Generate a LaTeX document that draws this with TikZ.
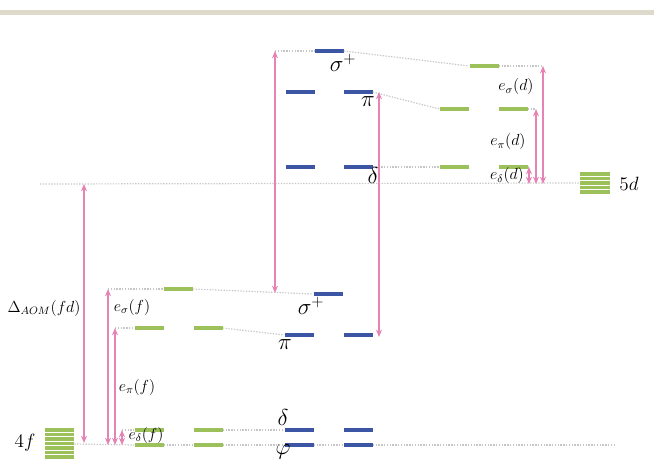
\documentclass[tikz,border=0pt]{standalone}
\usetikzlibrary{arrows.meta}
\definecolor{levblue}{HTML}{3C55A5}
\definecolor{levgreen}{HTML}{9CC15B}
\definecolor{gappink}{HTML}{E583B4}
\definecolor{topband}{HTML}{DEDACB}
\begin{document}
\begin{tikzpicture}[x=0.75pt,y=-0.75pt,
    bbar/.style={fill=levblue, minimum width=21.75pt, minimum height=3pt, inner sep=0pt},
    gbar/.style={fill=levgreen, minimum width=21.75pt, minimum height=3pt, inner sep=0pt},
    lvl/.style={gray!45, line width=0.9pt, dash pattern=on 1pt off 1.1pt},
    gap/.style={draw=gappink, line width=0.8pt, {Stealth[length=5.5pt,width=4.5pt]}-{Stealth[length=5.5pt,width=4.5pt]}},
    glab/.style={inner sep=0pt, font=\LARGE},
    elab/.style={inner sep=0pt, font=\large}]
    \useasboundingbox (0,0) rectangle (654,460);
    \fill[topband] (0,10) rectangle (654,15);
    % shells
    \node[minimum width=22.5pt, minimum height=16.5pt, inner sep=0pt] (st5d) at (595,183) {};
    \foreach \i in {0,...,4}
      \fill[levgreen] (580,{172+\i*4.5}) rectangle ++(30,3.6);
    \node[minimum width=21.75pt, minimum height=24pt, inner sep=0pt] (st4f) at (59.5,444) {};
    \foreach \i in {0,...,6}
      \fill[levgreen] (45,{428+\i*4.5}) rectangle ++(29,3.6);
    \node[inner sep=0pt, font=\Large] (l5d) at (629,184) {$5d$};
    \node[inner sep=0pt, font=\Large] (l4f) at (25,443) {$4f$};
    % upper blue levels
    \node[bbar] (usig) at (329,51) {};
    \node[bbar] (upi1) at (300,92) {};
    \node[bbar] (upi2) at (358,92) {};
    \node[bbar] (udel1) at (300,167) {};
    \node[bbar] (udel2) at (358,167) {};
    % 5d ligand field levels
    \node[gbar] (dsig) at (484,66) {};
    \node[gbar] (dpi1) at (454,109) {};
    \node[gbar] (dpi2) at (513,109) {};
    \node[gbar] (ddel1) at (454,167) {};
    \node[gbar] (ddel2) at (513,167) {};
    % lower blue levels
    \node[bbar] (lsig) at (328,294) {};
    \node[bbar] (lpi1) at (299,335) {};
    \node[bbar] (lpi2) at (358,335) {};
    \node[bbar] (ldel1) at (299,430) {};
    \node[bbar] (ldel2) at (358,430) {};
    \node[bbar] (lphi1) at (299,445) {};
    \node[bbar] (lphi2) at (358,445) {};
    % 4f ligand field levels
    \node[gbar] (fsig) at (178,289) {};
    \node[gbar] (fpi1) at (149,328) {};
    \node[gbar] (fpi2) at (208,328) {};
    \node[gbar] (fdel1) at (149,430) {};
    \node[gbar] (fdel2) at (208,430) {};
    \node[gbar] (fphi1) at (149,445) {};
    \node[gbar] (fphi2) at (208,445) {};
    % arrow ends
    \coordinate (bigl1) at (275,51);
    \coordinate (bigl2) at (275,293);
    \coordinate (bigr1) at (379,92);
    \coordinate (bigr2) at (379,337);
    \coordinate (aom1) at (84,184);
    \coordinate (aom2) at (84,443);
    \coordinate (fs1) at (108,289);
    \coordinate (fs2) at (108,445);
    \coordinate (fp1) at (115,328);
    \coordinate (fp2) at (115,445);
    \coordinate (fd1) at (122,430);
    \coordinate (fd2) at (122,445);
    \coordinate (ds1) at (543,66);
    \coordinate (ds2) at (543,184);
    \coordinate (dp1) at (536,109);
    \coordinate (dp2) at (536,184);
    \coordinate (dd1) at (529,167);
    \coordinate (dd2) at (529,184);
    \coordinate (b5d) at (40,184);
    \coordinate (b4f) at (614,445);
    % correlation lines
    \draw[lvl] (b5d) -- (st5d.west);
    \draw[lvl] (st4f.east) -- (fphi1.west);
    \draw[lvl] (fphi1.east) -- (fphi2.west);
    \draw[lvl] (fphi2.east) -- (lphi1.west);
    \draw[lvl] (lphi1.east) -- (lphi2.west);
    \draw[lvl] (lphi2.east) -- (b4f);
    \draw[lvl] (bigl1) -- (usig.west);
    \draw[lvl] (usig.east) -- (dsig.west);
    \draw[lvl] (dsig.east) -- (ds1);
    \draw[lvl] (upi2.east) -- (dpi1.west);
    \draw[lvl] (dpi2.east) -- (dp1);
    \draw[lvl] (udel2.east) -- (ddel1.west);
    \draw[lvl] (ddel2.east) -- (dd1);
    \draw[lvl] (fs1) -- (fsig.west);
    \draw[lvl] (fsig.east) -- (lsig.west);
    \draw[lvl] (fp1) -- (fpi1.west);
    \draw[lvl] (fpi2.east) -- (lpi1.west);
    \draw[lvl] (fd1) -- (fdel1.west);
    \draw[lvl] (fdel2.east) -- (ldel1.west);
    % gaps
    \draw[gap] (bigl2) -- (bigl1);
    \draw[gap] (bigr1) -- (bigr2);
    \draw[gap] (aom1) -- (aom2);
    \draw[gap] (fs1) -- (fs2);
    \draw[gap] (fp1) -- (fp2);
    \draw[gap] (fd1) -- (fd2);
    \draw[gap] (ds1) -- (ds2);
    \draw[gap] (dp1) -- (dp2);
    \draw[gap] (dd1) -- (dd2);
    % labels
    \node[glab] (tusig) at (343,63) {$\sigma^{+}$};
    \node[glab] (tupi) at (368,102) {$\pi$};
    \node[glab] (tudel) at (373,176) {$\delta$};
    \node[glab] (tlsig) at (311,306) {$\sigma^{+}$};
    \node[glab] (tlpi) at (285,345) {$\pi$};
    \node[glab] (tldel) at (283,417) {$\delta$};
    \node[glab] (tlphi) at (283,452) {$\varphi$};
    \node[elab] (tds) at (516,87) {$e_{\sigma}(d)$};
    \node[elab] (tdp) at (508,142) {$e_{\pi}(d)$};
    \node[elab] (tdd) at (507,176) {$e_{\delta}(d)$};
    \node[elab] (tfs) at (132,307) {$e_{\sigma}(f)$};
    \node[elab] (tfp) at (137,387) {$e_{\pi}(f)$};
    \node[elab] (tfd) at (146,435) {$e_{\delta}(f)$};
    \node[inner sep=0pt, font=\large] (taom) at (44,308) {$\Delta_{AOM}(fd)$};
\end{tikzpicture}
\end{document}
